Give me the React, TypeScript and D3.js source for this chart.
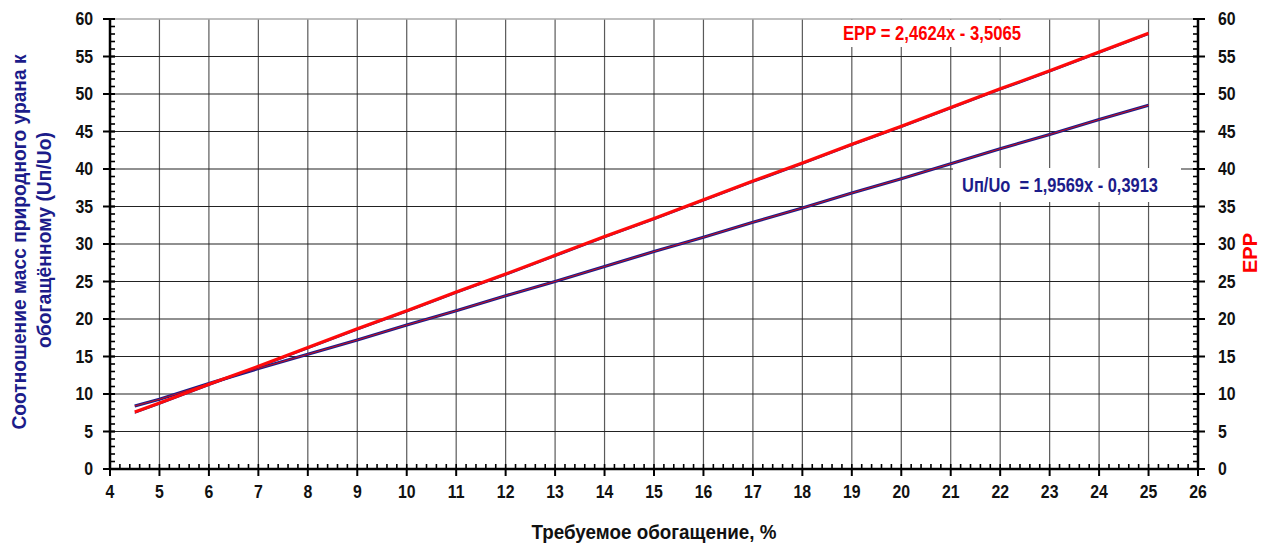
import React, { useRef, useEffect } from 'react';
import * as d3 from 'd3';

// enrichment, %
const enrichment = [4.5, 5, 6, 7, 8, 9, 10, 11, 12, 13, 14, 15, 16, 17, 18, 19, 20, 21, 22, 23, 24, 25];
// Un/Uo ratio (left axis)
const massRatio = [8.4, 9.3, 11.4, 13.4, 15.3, 17.2, 19.2, 21.1, 23.1, 25.0, 27.0, 29.0, 30.9, 32.9, 34.8, 36.8, 38.7, 40.7, 42.7, 44.6, 46.6, 48.5];
// EPP (right axis)
const epp = [7.6, 8.8, 11.3, 13.7, 16.2, 18.7, 21.1, 23.6, 26.0, 28.5, 31.0, 33.4, 35.9, 38.4, 40.8, 43.3, 45.7, 48.2, 50.7, 53.1, 55.6, 58.1];

const xTicks = d3.range(4, 27, 1);
const yTicks = d3.range(0, 61, 5);

const eppLabel = 'EPP = 2,4624x - 3,5065';
const ratioLabel = 'Uп/Uо\u00a0\u00a0= 1,9569x - 0,3913';
const xTitle = 'Требуемое обогащение, %';
const yTitle1 = 'Соотношение масс природного урана к';
const yTitle2 = 'обогащённому (Uп/Uо)';
const y2Title = 'EPP';

const W = 1274;
const H = 546;
const NAVY = '#1c1c8a';
const FONT = '"Liberation Sans Narrow", "Arial Narrow", "Liberation Sans", Arial, sans-serif';

export default function App() {
  const svgRef = useRef<SVGSVGElement>(null);

  useEffect(() => {
    const svg = d3.select(svgRef.current);
    svg.selectAll('*').remove();

    const left = 110, right = 1198, top = 19, bottom = 469;
    const x = d3.scaleLinear().domain([4, 26]).range([left, right]);
    const y = d3.scaleLinear().domain([0, 60]).range([bottom, top]);
    const y2 = d3.scaleLinear().domain([0, 60]).range([bottom, top]);

    // grid
    const grid = svg.append('g');
    grid.selectAll('.vg')
      .data(xTicks.filter((t) => t > 4 && t < 26))
      .join('line')
      .attr('x1', (d) => x(d)).attr('x2', (d) => x(d))
      .attr('y1', top).attr('y2', bottom)
      .attr('stroke', '#5a5a5a').attr('stroke-width', 1.2);
    grid.selectAll('.hg')
      .data(yTicks.filter((t) => t > 0 && t < 60))
      .join('line')
      .attr('x1', left).attr('x2', right)
      .attr('y1', (d) => y(d)).attr('y2', (d) => y(d))
      .attr('stroke', '#222').attr('stroke-width', 1.2);
    grid.append('line')
      .attr('x1', left).attr('x2', right).attr('y1', top).attr('y2', top)
      .attr('stroke', '#aaa').attr('stroke-width', 1.5);

    // label boxes (hide grid behind)
    svg.append('rect').attr('x', 805).attr('y', top + 1).attr('width', 240).attr('height', 27).attr('fill', '#fff');
    svg.append('rect').attr('x', 953).attr('y', 168).attr('width', 228).attr('height', 34).attr('fill', '#fff');

    const line = (vals: number[], sc: d3.ScaleLinear<number, number>) =>
      d3.line<number>().x((_, i) => x(enrichment[i])).y((d) => sc(d))(vals);

    // Un/Uo series + trend
    svg.append('path').attr('d', line(massRatio, y)).attr('fill', 'none')
      .attr('stroke', NAVY).attr('stroke-width', 3.2);
    svg.append('path').attr('d', line(massRatio, y)).attr('fill', 'none')
      .attr('stroke', '#e01010').attr('stroke-width', 0.9);

    // EPP series + trend
    svg.append('path').attr('d', line(epp, y2)).attr('fill', 'none')
      .attr('stroke', NAVY).attr('stroke-width', 1.2).attr('transform', 'translate(0,1.3)');
    svg.append('path').attr('d', line(epp, y2)).attr('fill', 'none')
      .attr('stroke', '#ff0a0a').attr('stroke-width', 3);

    // axes
    const ax = svg.append('g').attr('stroke', '#000');
    ax.append('line').attr('x1', left).attr('x2', right).attr('y1', bottom).attr('y2', bottom).attr('stroke-width', 2.5);
    ax.append('line').attr('x1', left).attr('x2', left).attr('y1', top).attr('y2', bottom).attr('stroke-width', 2.5);
    ax.append('line').attr('x1', right).attr('x2', right).attr('y1', top).attr('y2', bottom).attr('stroke-width', 2.5);

    // x ticks
    ax.selectAll('.xt').data(xTicks).join('line')
      .attr('x1', (d) => x(d)).attr('x2', (d) => x(d))
      .attr('y1', bottom).attr('y2', bottom + 7).attr('stroke-width', 2);
    ax.selectAll('.xm').data(d3.range(4, 26.001, 0.2)).join('line')
      .attr('x1', (d) => x(d)).attr('x2', (d) => x(d))
      .attr('y1', bottom).attr('y2', bottom - 5).attr('stroke-width', 1.6);

    // y ticks, both sides
    ax.selectAll('.yt').data(yTicks).join('line')
      .attr('x1', left - 7).attr('x2', left + 5)
      .attr('y1', (d) => y(d)).attr('y2', (d) => y(d)).attr('stroke-width', 2);
    ax.selectAll('.ym').data(d3.range(0, 61, 1)).join('line')
      .attr('x1', left).attr('x2', left + 5)
      .attr('y1', (d) => y(d)).attr('y2', (d) => y(d)).attr('stroke-width', 1.6);
    ax.selectAll('.y2t').data(yTicks).join('line')
      .attr('x1', right - 5).attr('x2', right + 7)
      .attr('y1', (d) => y2(d)).attr('y2', (d) => y2(d)).attr('stroke-width', 2);
    ax.selectAll('.y2m').data(d3.range(0, 61, 1)).join('line')
      .attr('x1', right - 5).attr('x2', right)
      .attr('y1', (d) => y2(d)).attr('y2', (d) => y2(d)).attr('stroke-width', 1.6);

    const txt = svg.append('g').attr('font-family', FONT).attr('font-weight', 'bold');

    // tick labels, squeezed a bit to look like a narrow face
    txt.selectAll('.xl').data(xTicks).join('text')
      .attr('transform', (d) => `translate(${x(d)},${bottom + 29}) scale(0.88,1)`)
      .attr('text-anchor', 'middle').attr('font-size', 18).attr('fill', '#111')
      .text((d) => d);
    txt.selectAll('.yl').data(yTicks).join('text')
      .attr('transform', (d) => `translate(${left - 17},${y(d) + 6}) scale(0.88,1)`)
      .attr('text-anchor', 'end').attr('font-size', 18).attr('fill', '#111')
      .text((d) => d);
    txt.selectAll('.y2l').data(yTicks).join('text')
      .attr('transform', (d) => `translate(${right + 20},${y2(d) + 6}) scale(0.88,1)`)
      .attr('text-anchor', 'start').attr('font-size', 18).attr('fill', '#111')
      .text((d) => d);

    txt.append('text').attr('x', 654).attr('y', 539)
      .attr('text-anchor', 'middle').attr('font-size', 20).attr('fill', '#111')
      .attr('textLength', 245).attr('lengthAdjust', 'spacingAndGlyphs')
      .text(xTitle);

    txt.append('text').attr('transform', 'translate(26,242) rotate(-90)')
      .attr('text-anchor', 'middle').attr('font-size', 20).attr('fill', NAVY)
      .attr('textLength', 375).attr('lengthAdjust', 'spacingAndGlyphs')
      .text(yTitle1);
    txt.append('text').attr('transform', 'translate(51,240) rotate(-90)')
      .attr('text-anchor', 'middle').attr('font-size', 20).attr('fill', NAVY)
      .attr('textLength', 216).attr('lengthAdjust', 'spacingAndGlyphs')
      .text(yTitle2);
    txt.append('text').attr('transform', 'translate(1257,253) rotate(-90)')
      .attr('text-anchor', 'middle').attr('font-size', 20).attr('fill', '#ff0000')
      .attr('textLength', 40).attr('lengthAdjust', 'spacingAndGlyphs')
      .text(y2Title);

    txt.append('text').attr('x', 932).attr('y', 40)
      .attr('text-anchor', 'middle').attr('font-size', 20).attr('fill', '#ff0000')
      .attr('textLength', 178).attr('lengthAdjust', 'spacingAndGlyphs')
      .text(eppLabel);
    txt.append('text').attr('x', 962).attr('y', 192)
      .attr('text-anchor', 'start').attr('font-size', 20).attr('fill', NAVY)
      .attr('textLength', 196).attr('lengthAdjust', 'spacingAndGlyphs')
      .text(ratioLabel);
  }, []);

  return (
    <div style={{ position: 'absolute', left: 0, top: 0, background: '#fff' }}>
      <svg ref={svgRef} width={W} height={H} style={{ display: 'block' }}></svg>
    </div>
  );
}
